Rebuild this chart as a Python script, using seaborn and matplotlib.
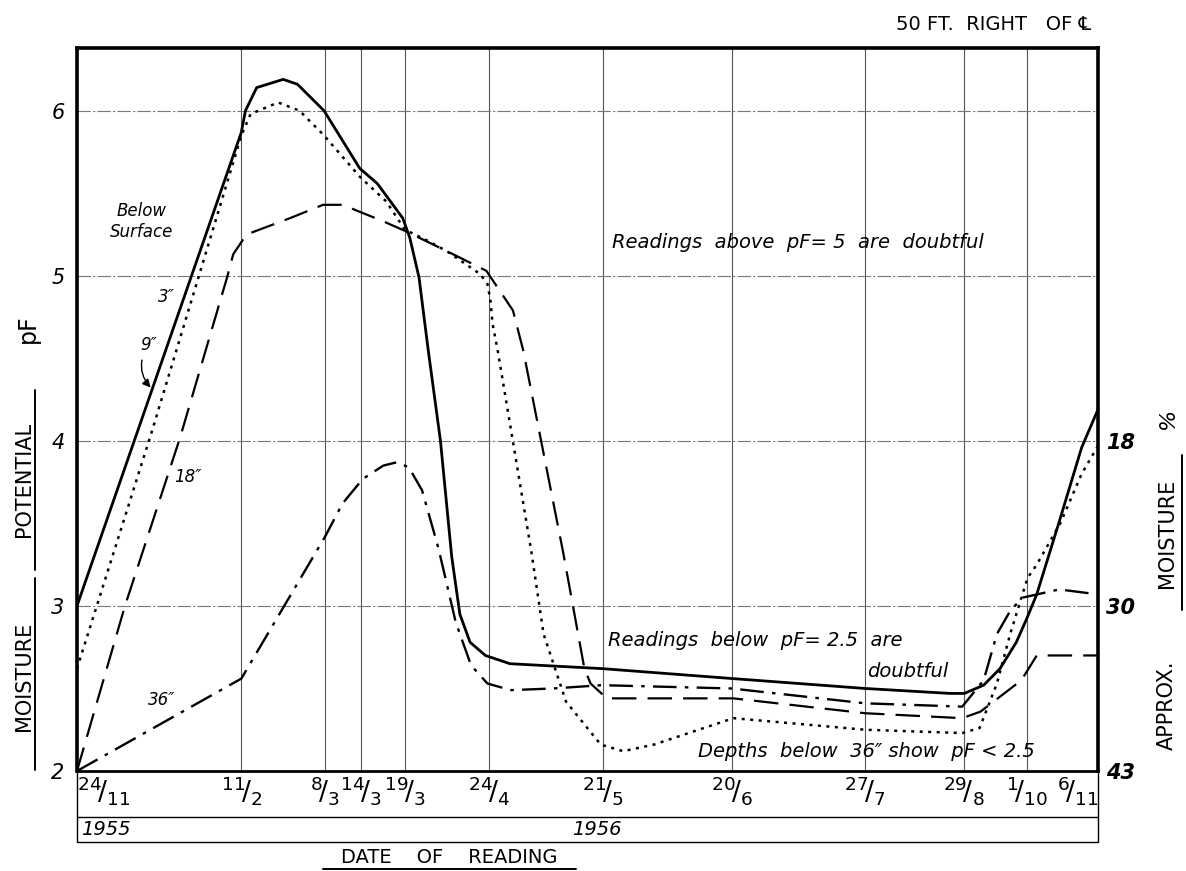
import matplotlib
matplotlib.use("Agg")
import matplotlib.pyplot as plt
import seaborn as sns

# reading dates and where they sit along the (uneven) date scale of the chart
date_days = ["24", "11", "8", "14", "19", "24", "21", "20", "27", "29", "1", "6"]
date_months = ["11", "2", "3", "3", "3", "4", "5", "6", "7", "8", "10", "11"]
date_pos = [0, 16.1, 24.3, 27.8, 32.1, 40.4, 51.5, 64.2, 77.2, 86.9, 93.0, 100]

# 3 in. below surface (solid)
x_3in = [0, 16.1, 16.5, 17.6, 20.2, 21.6, 24.2, 27.7, 29.4, 31.9, 32.6, 33.5, 34.4, 35.6, 36.7,
         37.5, 38.5, 40.0, 42.4, 51.5, 64.2, 77.2, 85.5, 86.9, 88.8, 90.4, 92.0, 93.0, 94.0, 96.3, 98.4, 100]
pf_3in = [3.0, 5.87, 6.0, 6.14, 6.19, 6.16, 6.0, 5.65, 5.56, 5.35, 5.23, 4.99, 4.55, 4.0, 3.3,
          2.95, 2.78, 2.70, 2.65, 2.62, 2.56, 2.50, 2.47, 2.47, 2.52, 2.62, 2.78, 2.92, 3.07, 3.53, 3.96, 4.19]

# 9 in. (dotted)
x_9in = [0, 7.3, 16.1, 17.0, 19.7, 21.8, 24.2, 27.7, 30.3, 32.1, 34.1, 36.2, 39.5, 40.2, 40.5, 40.7,
         41.2, 44.5, 45.7, 47.9, 51.3, 53.5, 56.5, 64.3, 77.2, 86.7, 88.4, 90.1, 91.4, 93.1, 94.0, 96.3, 98.4, 100]
pf_9in = [2.62, 4.05, 5.85, 5.98, 6.05, 6.0, 5.85, 5.6, 5.45, 5.28, 5.22, 5.15, 5.01, 4.95, 4.85, 4.71,
          4.55, 3.33, 2.83, 2.42, 2.16, 2.12, 2.16, 2.32, 2.25, 2.23, 2.26, 2.53, 2.83, 3.17, 3.25, 3.5, 3.8, 3.97]

# 18 in. (long dash)
x_18in = [0, 4.7, 10.1, 14.7, 15.3, 16.6, 20.9, 24.1, 26.0, 30.0, 32.2, 36.2, 40.1, 41.4, 42.7, 43.7,
          47.6, 49.7, 50.3, 51.9, 64.3, 77.2, 86.7, 88.5, 92.5, 94.0, 100]
pf_18in = [2.0, 3.0, 4.02, 4.99, 5.13, 5.25, 5.35, 5.43, 5.43, 5.33, 5.27, 5.15, 5.03, 4.91, 4.79, 4.55,
           3.33, 2.62, 2.53, 2.44, 2.44, 2.35, 2.32, 2.36, 2.55, 2.70, 2.70]

# 36 in. (dash-dot)
x_36in = [0, 16.1, 24.3, 26.0, 28.0, 30.0, 31.3, 32.5, 33.8, 35.4, 37.1, 38.6, 40.2, 42.5, 46.6, 51.4, 64.1,
          77.2, 86.7, 88.8, 90.1, 91.4, 92.6, 96.2, 100]
pf_36in = [2.0, 2.56, 3.42, 3.62, 3.77, 3.85, 3.87, 3.84, 3.70, 3.35, 2.9, 2.64, 2.53, 2.49, 2.50, 2.52, 2.50,
           2.41, 2.39, 2.55, 2.83, 2.97, 3.05, 3.10, 3.07]

pf_ticks = [2, 3, 4, 5, 6]
moist_ticks = [4, 3, 2]
moist_labels = ["18", "30", "43"]

sns.set_theme(style="white")
plt.rcParams["font.family"] = ["DejaVu Sans", "Noto Sans"]
plt.rcParams["text.color"] = "black"
plt.rcParams["xtick.color"] = "black"
plt.rcParams["ytick.color"] = "black"
plt.rcParams["mathtext.default"] = "it"

fig = plt.figure(figsize=(11.86, 8.71), dpi=100)
ax = fig.add_axes([0.0649, 0.1148, 0.8609, 0.8301])

sns.lineplot(x=x_3in, y=pf_3in, ax=ax, color="black", lw=2.0, sort=False, estimator=None)
sns.lineplot(x=x_9in, y=pf_9in, ax=ax, color="black", lw=1.8, linestyle=(0, (1.2, 2.2)), sort=False, estimator=None)
sns.lineplot(x=x_18in, y=pf_18in, ax=ax, color="black", lw=1.6, linestyle=(0, (11, 5)), sort=False, estimator=None)
sns.lineplot(x=x_36in, y=pf_36in, ax=ax, color="black", lw=1.7, linestyle=(0, (10, 3.5, 1.5, 3.5)), sort=False, estimator=None)

ax.set_xlim(0, 100)
ax.set_ylim(2, 6.38)
ax.set_xticks(date_pos)
ax.set_xticklabels([f"$^{{{d}}}\\!/_{{{m}}}$" for d, m in zip(date_days, date_months)], fontsize=19)
ax.set_yticks(pf_ticks)
ax.set_yticklabels([str(t) for t in pf_ticks], fontsize=15, style="italic")
ax.tick_params(axis="both", length=0)
ax.tick_params(axis="x", pad=2)
ax.tick_params(axis="y", pad=9)
ax.get_xticklabels()[0].set_ha("left")
ax.get_xticklabels()[-1].set_ha("right")

ax.xaxis.grid(True, color="#555555", lw=0.8)
ax.yaxis.grid(True, color="#777777", lw=0.8, linestyle=(0, (12, 2, 2, 2)))
for s in ax.spines.values():
    s.set_color("black")
    s.set_linewidth(2.6)
ax.spines["bottom"].set_linewidth(2.0)

ax2 = ax.twinx()
ax2.set_ylim(ax.get_ylim())
ax2.set_yticks(moist_ticks)
ax2.set_yticklabels(moist_labels, fontsize=15, style="italic", fontweight="bold")
ax2.tick_params(axis="y", length=0, pad=6)
ax2.grid(False)
for s in ax2.spines.values():
    s.set_visible(False)

# date table under the chart
for yy in [-0.064, -0.098]:
    ax.plot([0, 1], [yy, yy], transform=ax.transAxes, color="black", lw=1.0, clip_on=False)
for xx in [0, 1]:
    ax.plot([xx, xx], [0, -0.098], transform=ax.transAxes, color="black", lw=1.0, clip_on=False)
ax.text(0.004, -0.081, "1955", transform=ax.transAxes, fontsize=14, style="italic", va="center")
ax.text(0.485, -0.081, "1956", transform=ax.transAxes, fontsize=14, style="italic", va="center")

# annotations
ax.text(6.3, 5.33, "Below\nSurface", fontsize=12, style="italic", ha="center", va="center", linespacing=1.2)
ax.text(8.8, 4.87, "3\u2033", fontsize=12, style="italic", ha="center", va="center")
ax.annotate("9\u2033", xy=(7.4, 4.31), xytext=(7.0, 4.58), fontsize=12, style="italic", ha="center", va="center",
            arrowprops=dict(arrowstyle="-|>", color="black", lw=1.0, connectionstyle="arc3,rad=0.4"))
ax.text(10.9, 3.78, "18\u2033", fontsize=12, style="italic", ha="center", va="center")
ax.text(8.3, 2.43, "36\u2033", fontsize=12, style="italic", ha="center", va="center")
ax.text(52.4, 5.2, "Readings  above  pF= 5  are  doubtful", fontsize=14, style="italic", va="center")
ax.text(52.0, 2.79, "Readings  below  pF= 2.5  are", fontsize=14, style="italic", va="center")
ax.text(77.4, 2.6, "doubtful", fontsize=14, style="italic", va="center")
ax.text(60.8, 2.12, "Depths  below  36\u2033 show  pF < 2.5", fontsize=14, style="italic", va="center")

# axis titles, drawn as lettering
fig.text(0.0205, 0.224, "MOISTURE", rotation=90, fontsize=15, ha="center", va="center")
fig.text(0.0205, 0.45, "POTENTIAL", rotation=90, fontsize=15, ha="center", va="center")
fig.text(0.0236, 0.623, "pF", rotation=90, fontsize=17, ha="center", va="center")
fig.add_artist(plt.Line2D([0.0295, 0.0295], [0.116, 0.336], color="black", lw=1.4))
fig.add_artist(plt.Line2D([0.0295, 0.0295], [0.346, 0.552], color="black", lw=1.4))

fig.text(0.984, 0.19, "APPROX.", rotation=90, fontsize=15, ha="center", va="center")
fig.text(0.984, 0.388, "MOISTURE", rotation=90, fontsize=15, ha="center", va="center")
fig.text(0.985, 0.52, "%", rotation=90, fontsize=16, style="italic", ha="center", va="center")
fig.add_artist(plt.Line2D([0.9966, 0.9966], [0.30, 0.478], color="black", lw=1.4))

fig.text(0.379, 0.016, "DATE    OF    READING", fontsize=14, ha="center", va="center")
fig.add_artist(plt.Line2D([0.272, 0.486], [0.002, 0.002], color="black", lw=1.4))

fig.text(0.92, 0.972, "50 FT.  RIGHT   OF \u2104", fontsize=14, ha="right", va="center")

fig.savefig("out.png", dpi=100)
